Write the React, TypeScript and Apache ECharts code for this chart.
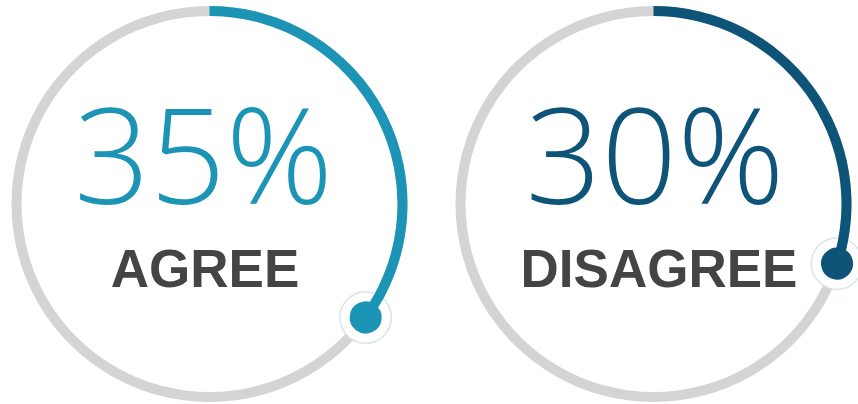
import React, { useEffect, useRef } from "react";
import * as echarts from "echarts";

const CATEGORIES = ["AGREE", "DISAGREE"];
const VALUES = [35, 30];
const MAX_VALUE = 100;

const COLORS = ["#1b94b5", "#0e5479"];
const CENTERS_X = [209.5, 653.5];
const CENTER_Y = 204;
const TEXT_SHIFT_X = [-6, 1.5];
const LABEL_SHIFT_X = [-4.5, 5.5];

const hidden = {
  splitLine: { show: false },
  axisTick: { show: false },
  axisLabel: { show: false },
  anchor: { show: false },
};

export default function App() {
  const ref = useRef<HTMLDivElement>(null);
  useEffect(() => {
    if (!ref.current) return;
    const chart = echarts.init(ref.current, null, { renderer: "svg" });
    const series: any[] = [];
    CATEGORIES.forEach((name, i) => {
      const base = {
        type: "gauge",
        center: [CENTERS_X[i], CENTER_Y],
        radius: 198,
        startAngle: 90,
        endAngle: -270,
        min: 0,
        max: MAX_VALUE,
        ...hidden,
      };
      series.push({
        ...base,
        progress: { show: true, width: 10, itemStyle: { color: COLORS[i] } },
        axisLine: { lineStyle: { width: 10, color: [[1, "#d4d4d4"]] } },
        pointer: {
          show: true,
          icon: "circle",
          length: 53,
          width: 53,
          offsetCenter: [0, -166.5],
          itemStyle: { color: "#dce4e7" },
        },
        title: { show: false },
        detail: { show: false },
        data: [{ value: VALUES[i], name }],
      });
      series.push({
        ...base,
        progress: { show: false },
        axisLine: { show: false },
        pointer: {
          show: true,
          icon: "circle",
          length: 41,
          width: 41,
          offsetCenter: [0, -172.5],
          itemStyle: {
            color: COLORS[i],
            borderColor: "#ffffff",
            borderWidth: 9,
          },
        },
        title: {
          offsetCenter: [LABEL_SHIFT_X[i], 64],
          fontSize: 53,
          lineHeight: 53,
          fontWeight: "bold",
          color: "#444444",
          fontFamily: "Liberation Sans",
        },
        detail: {
          offsetCenter: [TEXT_SHIFT_X[i], -52],
          fontSize: 133,
          lineHeight: 133,
          fontWeight: 300,
          color: COLORS[i],
          fontFamily: "Open Sans",
          formatter: "{value}%",
          width: 300,
          padding: 0,
        },
        data: [{ value: VALUES[i], name }],
      });
    });
    chart.setOption({ animation: false, backgroundColor: "#ffffff", series });
    return () => chart.dispose();
  }, []);
  return (
    <div
      ref={ref}
      style={{ position: "fixed", left: 0, top: 0, width: 858, height: 404 }}
    />
  );
}
